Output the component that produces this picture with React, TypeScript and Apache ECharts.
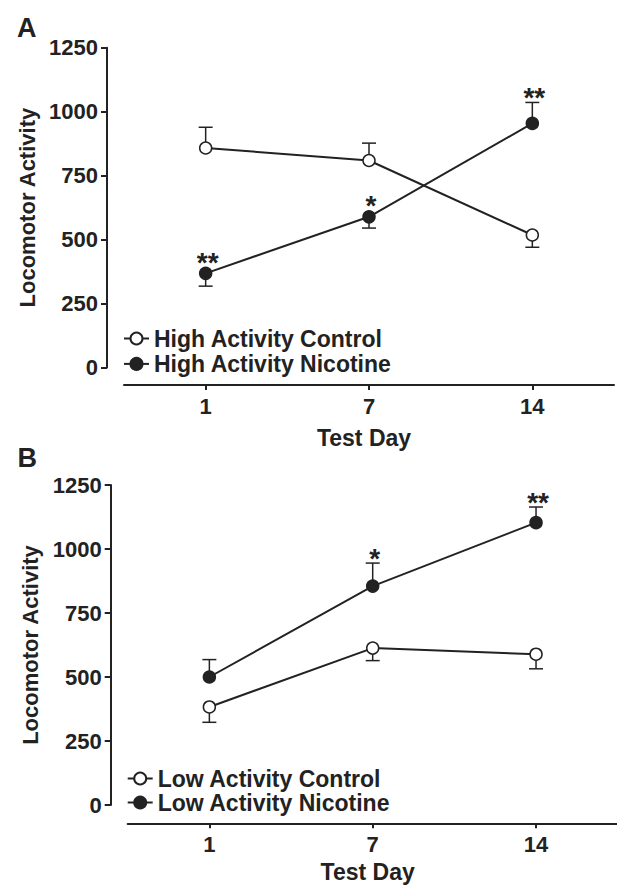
import React, { useEffect, useRef } from "react";
import * as echarts from "echarts";

const days = ["1", "7", "14"];
const yTicks = { min: 0, max: 1250, interval: 250 };

// Panel A
const hiControl = [858, 809, 518];
const hiControlSem = [81, 68, 48];
const hiControlDir = [1, 1, -1];
const hiNicotine = [368, 589, 954];
const hiNicotineSem = [50, 44, 82];
const hiNicotineDir = [-1, -1, 1];
const hiStars = ["**", "*", "**"];

// Panel B
const loControl = [383, 613, 589];
const loControlSem = [60, 49, 57];
const loControlDir = [-1, -1, -1];
const loNicotine = [500, 855, 1103];
const loNicotineSem = [68, 90, 61];
const loNicotineDir = [1, 1, 1];
const loStars = ["", "*", "**"];

const INK = "#222";
const FONT = '"Liberation Sans", Arial, sans-serif';

function errorSeries(means: number[], sems: number[], dirs: number[], gi: number) {
  return {
    type: "custom",
    xAxisIndex: gi,
    yAxisIndex: gi,
    z: 1,
    silent: true,
    encode: { x: 0, y: [1, 2] },
    data: means.map((m, i) => [i, m, m + dirs[i] * sems[i]]),
    renderItem: (params: any, api: any) => {
      const i = api.value(0);
      const p = api.coord([i, api.value(1)]);
      const q = api.coord([i, api.value(2)]);
      return {
        type: "group",
        children: [
          { type: "line", shape: { x1: p[0], y1: p[1], x2: q[0], y2: q[1] }, style: { stroke: INK, lineWidth: 1.5 } },
          { type: "line", shape: { x1: q[0] - 7, y1: q[1], x2: q[0] + 7, y2: q[1] }, style: { stroke: INK, lineWidth: 1.5 } },
        ],
      };
    },
  };
}

function starSeries(means: number[], sems: number[], dirs: number[], stars: string[], gi: number) {
  return {
    type: "custom",
    xAxisIndex: gi,
    yAxisIndex: gi,
    z: 3,
    silent: true,
    encode: { x: 0, y: [1, 2] },
    data: means.map((m, i) => [i, m, dirs[i] > 0 ? m + sems[i] : m]),
    renderItem: (params: any, api: any) => {
      const i = api.value(0);
      const label = stars[params.dataIndex];
      if (!label) return { type: "group", children: [] };
      const p = api.coord([i, api.value(1)]);
      const q = api.coord([i, api.value(2)]);
      const anchor = Math.min(p[1] - 6, q[1]);
      return {
        type: "text",
        x: p[0] + 2,
        y: anchor - 5,
        style: {
          text: label,
          fill: INK,
          font: `bold 28px ${FONT}`,
          align: "center",
          verticalAlign: "middle",
        },
      };
    },
  };
}

function lineSeries(name: string, values: number[], filled: boolean, gi: number) {
  return {
    name,
    type: "line",
    xAxisIndex: gi,
    yAxisIndex: gi,
    z: 2,
    data: values,
    symbol: "circle",
    symbolSize: 12,
    showSymbol: true,
    lineStyle: { color: INK, width: 2 },
    itemStyle: { color: filled ? INK : "#fff", borderColor: INK, borderWidth: 1.5 },
    emphasis: { disabled: true },
  };
}

function xAxis(gi: number, offset: number, nameGap: number) {
  return {
    type: "category",
    gridIndex: gi,
    data: days,
    boundaryGap: true,
    offset,
    axisLine: { show: true, onZero: false, lineStyle: { color: INK, width: 2 } },
    axisTick: { show: true, alignWithLabel: true, length: 5, lineStyle: { color: INK, width: 2 } },
    axisLabel: { fontSize: 22, fontWeight: "bold", color: INK, fontFamily: FONT, margin: 10 },
    splitLine: { show: false },
    name: "Test Day",
    nameLocation: "middle",
    nameGap,
    nameTextStyle: {
      fontSize: 23,
      lineHeight: 18,
      fontWeight: "bold",
      color: INK,
      fontFamily: FONT,
      padding: [0, 10, 0, 0],
    },
  };
}

function yAxis(gi: number, offset: number) {
  return {
    type: "value",
    gridIndex: gi,
    min: yTicks.min,
    max: yTicks.max,
    interval: yTicks.interval,
    offset,
    axisLine: { show: true, lineStyle: { color: INK, width: 2 } },
    axisTick: { show: true, length: 6, lineStyle: { color: INK, width: 2 } },
    axisLabel: {
      fontSize: 22,
      fontWeight: "bold",
      color: INK,
      fontFamily: FONT,
      margin: 9,
      formatter: (v: number) => String(v),
    },
    splitLine: { show: false },
    name: "Locomotor Activity",
    nameLocation: "middle",
    nameRotate: 90,
    nameGap: 66,
    nameTextStyle: { fontSize: 22, fontWeight: "bold", color: INK, fontFamily: FONT },
  };
}

function legend(names: string[], left: number, top: number, gap: number) {
  return {
    data: names,
    orient: "vertical",
    left,
    top,
    itemWidth: 25,
    itemHeight: 15,
    itemGap: gap,
    selectedMode: false,
    padding: 0,
    textStyle: { fontSize: 23, fontWeight: "bold", color: INK, fontFamily: FONT, lineHeight: 22 },
  };
}

export default function App() {
  const ref = useRef<HTMLDivElement>(null);
  useEffect(() => {
    if (!ref.current) return;
    const chart = echarts.init(ref.current, null, { renderer: "svg" });
    chart.setOption({
      animation: false,
      backgroundColor: "#fff",
      grid: [
        { left: 124, top: 47.7, width: 490, height: 319.8, outerBoundsMode: "none", containLabel: false },
        { left: 127.7, top: 485, width: 490, height: 320, outerBoundsMode: "none", containLabel: false },
      ],
      xAxis: [xAxis(0, 17.5, 44), xAxis(1, 18.3, 40)],
      yAxis: [yAxis(0, 17), yAxis(1, 17)],
      legend: [
        legend(["High Activity Control", "High Activity Nicotine"], 123, 327, 2.4),
        legend(["Low Activity Control", "Low Activity Nicotine"], 126.7, 767, 1),
      ],
      graphic: [
        { type: "text", x: 17, y: 27.5, style: { text: "A", font: `bold 27px ${FONT}`, fill: INK, verticalAlign: "middle" } },
        { type: "text", x: 17.5, y: 457.5, style: { text: "B", font: `bold 27px ${FONT}`, fill: INK, verticalAlign: "middle" } },
      ],
      series: [
        errorSeries(hiControl, hiControlSem, hiControlDir, 0),
        errorSeries(hiNicotine, hiNicotineSem, hiNicotineDir, 0),
        lineSeries("High Activity Control", hiControl, false, 0),
        lineSeries("High Activity Nicotine", hiNicotine, true, 0),
        starSeries(hiNicotine, hiNicotineSem, hiNicotineDir, hiStars, 0),
        errorSeries(loControl, loControlSem, loControlDir, 1),
        errorSeries(loNicotine, loNicotineSem, loNicotineDir, 1),
        lineSeries("Low Activity Control", loControl, false, 1),
        lineSeries("Low Activity Nicotine", loNicotine, true, 1),
        starSeries(loNicotine, loNicotineSem, loNicotineDir, loStars, 1),
      ],
    });
    return () => chart.dispose();
  }, []);
  return (
    <div
      ref={ref}
      style={{ position: "fixed", left: 0, top: 0, width: 617, height: 886, background: "#fff" }}
    />
  );
}
